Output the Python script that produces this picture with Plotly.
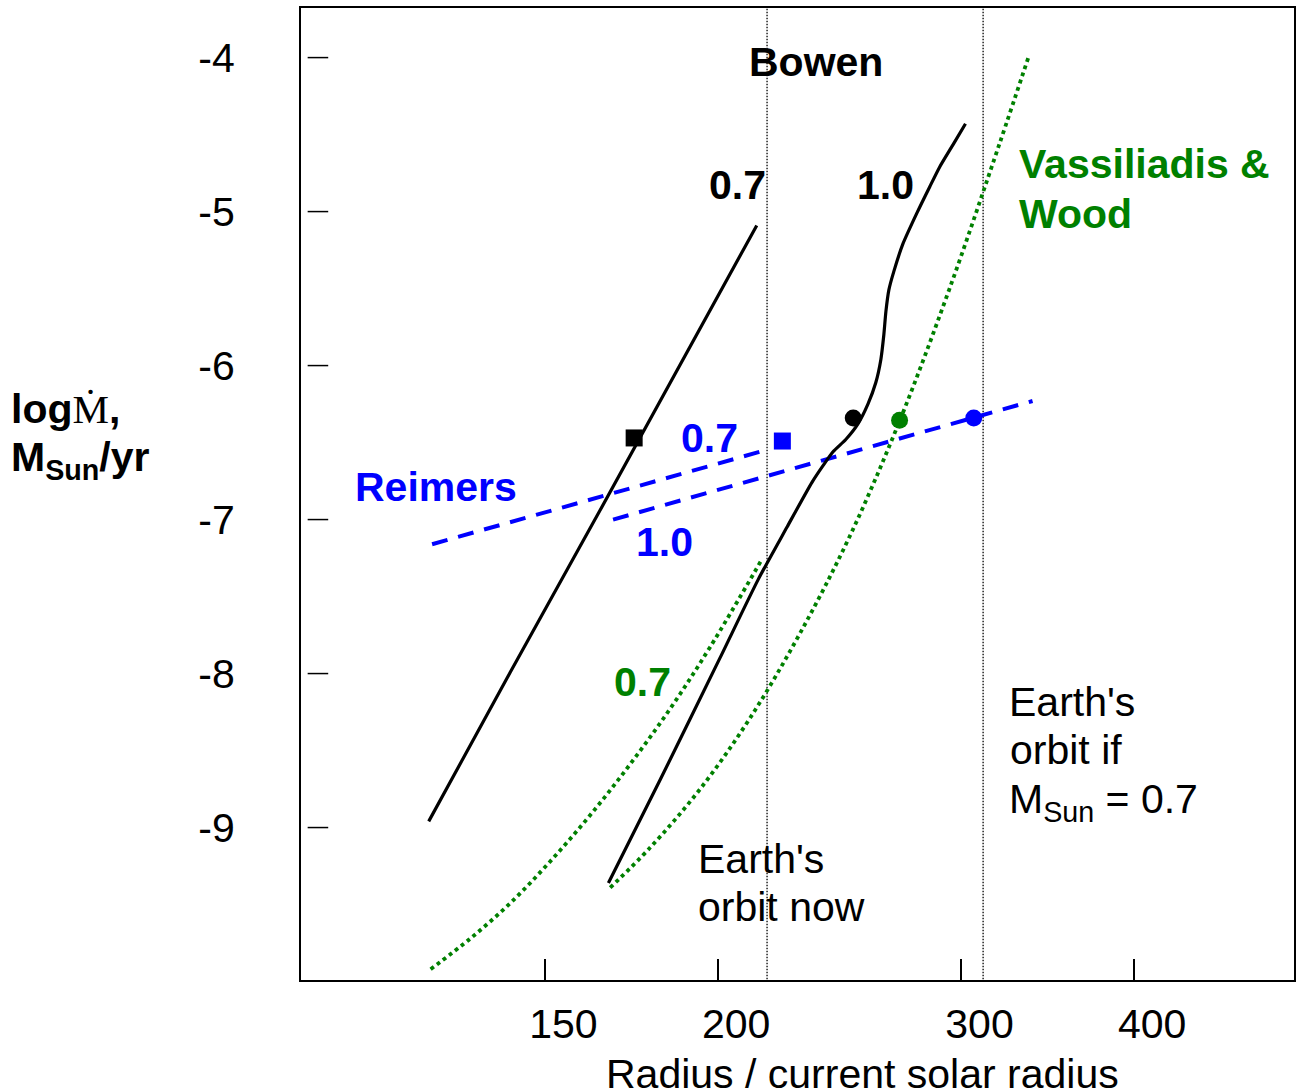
import plotly.graph_objects as go

# Radius in units of the current solar radius; log10 of mass-loss rate (M_sun / yr)
bowen_07_r = [123.5, 141.5, 164.3, 187.7, 213.3]
bowen_07_mdot = [-8.96, -7.99, -6.94, -6.00, -5.09]

bowen_10_r = [166.6, 181.6, 200.6, 213.8, 224.3, 233.8, 238.2, 242.2, 247.4, 252.4,
              256.7, 260.1, 262.3, 263.6, 264.5, 265.8, 268.0, 272.1, 278.5, 284.5,
              289.3, 295.6, 302.0]
bowen_10_mdot = [-9.36, -8.69, -7.90, -7.39, -7.05, -6.76, -6.65, -6.56, -6.48, -6.38,
                 -6.25, -6.11, -5.96, -5.80, -5.65, -5.51, -5.39, -5.21, -5.01, -4.84,
                 -4.71, -4.57, -4.43]

vw_07_r = [123.9, 132.4, 141.5, 151.2, 161.6, 172.7, 184.6, 197.3, 215.1]
vw_07_mdot = [-9.92, -9.72, -9.49, -9.22, -8.92, -8.59, -8.23, -7.83, -7.26]

vw_10_r = [167.1, 178.6, 194.1, 210.9, 229.2, 249.0, 270.6, 294.1, 319.6, 335.9]
vw_10_mdot = [-9.39, -9.13, -8.75, -8.29, -7.74, -7.11, -6.36, -5.50, -4.56, -3.98]

reimers_07_r = [124.2, 214.4]
reimers_07_mdot = [-7.16, -6.56]
reimers_10_r = [167.9, 337.7]
reimers_10_mdot = [-7.00, -6.23]

# Marked points on the tracks
bowen_sq_r, bowen_sq_mdot = [173.9], [-6.47]
bowen_dot_r, bowen_dot_mdot = [250.5], [-6.34]
reimers_sq_r, reimers_sq_mdot = [222.6], [-6.49]
reimers_dot_r, reimers_dot_mdot = [306.2], [-6.34]
vw_dot_r, vw_dot_mdot = [270.6], [-6.355]

# Earth's orbit now and for a Sun of 0.7 solar masses
orbit_now = 217
orbit_07 = 311

x_ticks = [150, 200, 300, 400]
y_ticks = [-4, -5, -6, -7, -8, -9]

BLUE = "#0000ff"
GREEN = "#008000"
FONT = "Liberation Sans"
FS = 41

W, H = 1297, 1090
ML, MR, MT, MB = 301, 1, 8, 110
PW, PH = W - ML - MR, H - MT - MB


def at(px, py):
    """Layout pixel position -> paper coordinates."""
    return (px - ML) / PW, (H - MB - py) / PH


fig = go.Figure()

for r in (orbit_now, orbit_07):
    fig.add_trace(go.Scatter(x=[r, r], y=[-10.2, -3.5], mode="lines",
                             line=dict(color="black", width=1.3, dash="1.5px,1.5px")))

dotted = dict(color=GREEN, width=3.8, dash="3.8px,3.8px", shape="spline", smoothing=1)
fig.add_trace(go.Scatter(x=vw_07_r, y=vw_07_mdot, mode="lines", line=dotted))
fig.add_trace(go.Scatter(x=vw_10_r, y=vw_10_mdot, mode="lines", line=dotted))

dashed = dict(color=BLUE, width=4, dash="16px,11px")
fig.add_trace(go.Scatter(x=reimers_07_r, y=reimers_07_mdot, mode="lines", line=dashed))
fig.add_trace(go.Scatter(x=reimers_10_r, y=reimers_10_mdot, mode="lines", line=dashed))

fig.add_trace(go.Scatter(x=bowen_07_r, y=bowen_07_mdot, mode="lines",
                         line=dict(color="black", width=3.2)))
fig.add_trace(go.Scatter(x=bowen_10_r, y=bowen_10_mdot, mode="lines",
                         line=dict(color="black", width=3.2, shape="spline", smoothing=0.6)))

for xs, ys, sym, col, size in [
    (bowen_sq_r, bowen_sq_mdot, "square", "black", 17),
    (bowen_dot_r, bowen_dot_mdot, "circle", "black", 17),
    (reimers_sq_r, reimers_sq_mdot, "square", BLUE, 17),
    (reimers_dot_r, reimers_dot_mdot, "circle", BLUE, 17),
    (vw_dot_r, vw_dot_mdot, "circle", GREEN, 17),
]:
    fig.add_trace(go.Scatter(x=xs, y=ys, mode="markers",
                             marker=dict(symbol=sym, color=col, size=size,
                                         line=dict(width=0))))

# y ticks: short marks set slightly in from the left frame
for v in y_ticks:
    fig.add_shape(type="line", xref="x domain", yref="y", x0=0.0067, x1=0.0274,
                  y0=v, y1=v, line=dict(color="black", width=1.5))


def label(text, px, py, color="black", bold=False, xanchor="center", yanchor="middle"):
    x, y = at(px, py)
    fig.add_annotation(text=f"<b>{text}</b>" if bold else text, x=x, y=y,
                       xref="paper", yref="paper", xanchor=xanchor, yanchor=yanchor,
                       showarrow=False, borderpad=0,
                       font=dict(family=FONT, size=FS, color=color))


label("Bowen", 817, 61.7, bold=True)
label("0.7", 738, 185.3, bold=True)
label("1.0", 886.3, 185, bold=True)
label("Vassiliadis &amp;", 1019, 164.2, color=GREEN, bold=True, xanchor="left")
label("Wood", 1019, 213.8, color=GREEN, bold=True, xanchor="left")
label("Reimers", 436.5, 487, color=BLUE, bold=True)
label("0.7", 710.8, 438.3, color=BLUE, bold=True)
label("1.0", 665.5, 541.7, color=BLUE, bold=True)
label("0.7", 643, 682, color=GREEN, bold=True)

label("Earth's", 697.5, 835.2, xanchor="left", yanchor="top")
label("orbit now", 698, 882.9, xanchor="left", yanchor="top")
label("Earth's", 1009.5, 677.9, xanchor="left", yanchor="top")
label("orbit if", 1010, 725.9, xanchor="left", yanchor="top")
label("M<sub>Sun</sub> = 0.7", 1009.5, 774.6, xanchor="left", yanchor="top")

label("log<span style=\"font-family:Liberation Serif;font-weight:normal\">Ṁ</span>,",
      9, 384.6, bold=True, xanchor="left", yanchor="top")
label("M<sub>Sun</sub>/yr", 9, 432.9, bold=True, xanchor="left", yanchor="top")

label("Radius / current solar radius", 864, 1049.6, yanchor="top")

fig.update_layout(
    width=W, height=H,
    margin=dict(l=ML, r=MR, t=MT, b=MB),
    paper_bgcolor="white", plot_bgcolor="white",
    showlegend=False,
    font=dict(family=FONT, size=FS, color="black"),
    xaxis=dict(type="log", range=[1.99928, 2.71768],
               tickvals=x_ticks, ticktext=[str(v) for v in x_ticks],
               ticks="inside", ticklen=21, tickwidth=1.5, tickcolor="black",
               ticklabelshift=18, ticklabelstandoff=7,
               tickfont=dict(family=FONT, size=FS, color="black"),
               showgrid=False, zeroline=False,
               showline=True, linewidth=2, linecolor="black", mirror=True),
    yaxis=dict(range=[-9.99, -3.678],
               tickvals=y_ticks, ticktext=[str(v) for v in y_ticks],
               ticks="", ticklabelstandoff=56,
               tickfont=dict(family=FONT, size=FS, color="black"),
               showgrid=False, zeroline=False,
               showline=True, linewidth=2, linecolor="black", mirror=True),
)

fig.write_html("out.html")
